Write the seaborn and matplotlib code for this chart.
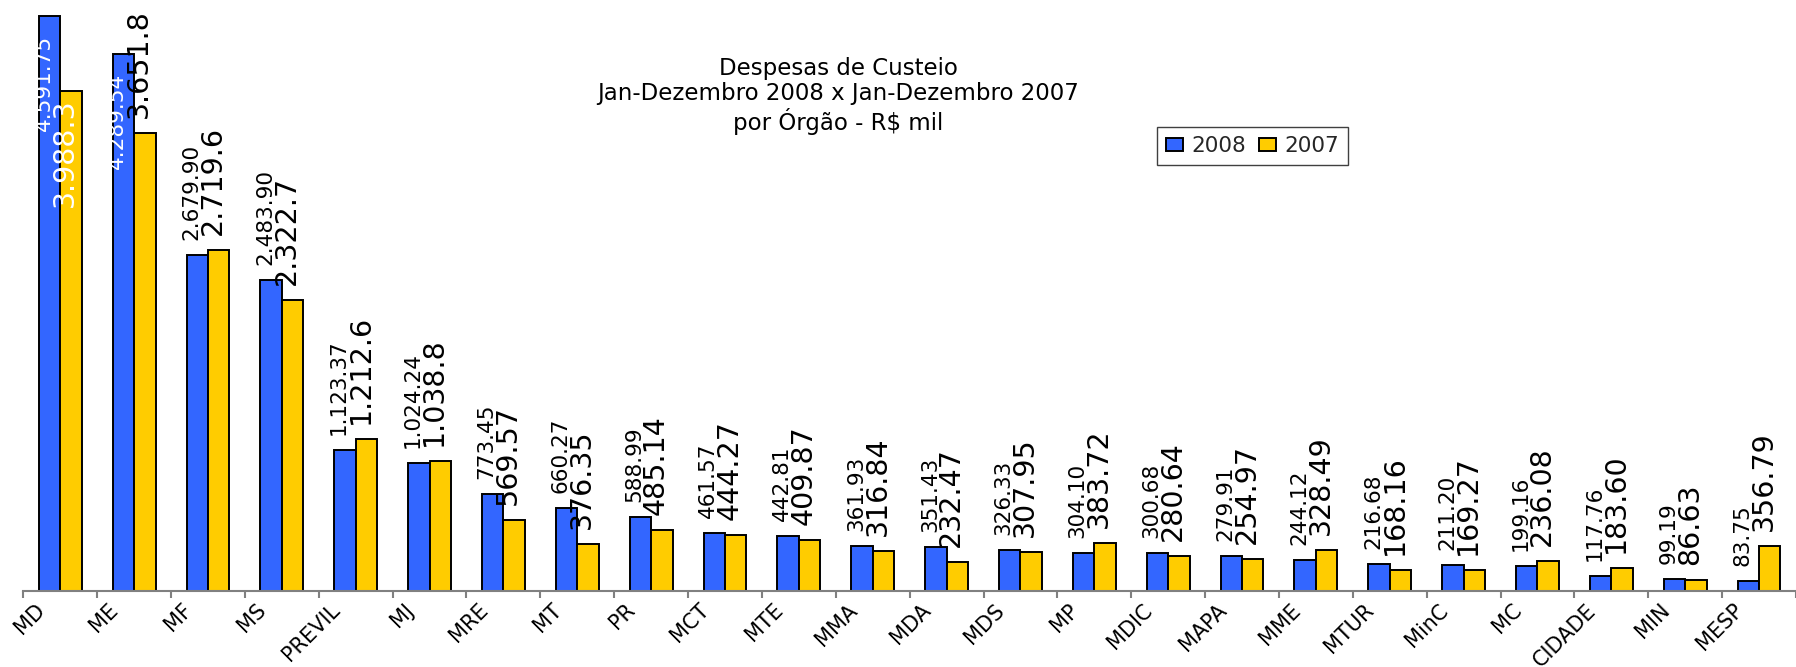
import matplotlib
matplotlib.use("Agg")
import matplotlib.pyplot as plt
import matplotlib.transforms as mtrans
import seaborn as sns
import pandas as pd
import numpy as np

# ---------------- data ----------------
orgaos = ["MD", "ME", "MF", "MS", "PREVIL", "MJ", "MRE", "MT", "PR", "MCT",
          "MTE", "MMA", "MDA", "MDS", "MP", "MDIC", "MAPA", "MME", "MTUR",
          "MinC", "MC", "CIDADE", "MIN", "MESP"]
valores_2008 = [4591.75, 4289.54, 2679.90, 2483.90, 1123.37, 1024.24, 773.45,
                660.27, 588.99, 461.57, 442.81, 361.93, 351.43, 326.33, 304.10,
                300.68, 279.91, 244.12, 216.68, 211.20, 199.16, 117.76, 99.19, 83.75]
valores_2007 = [3988.3, 3651.8, 2719.6, 2322.7, 1212.6, 1038.8, 569.57, 376.35,
                485.14, 444.27, 409.87, 316.84, 232.47, 307.95, 383.72, 280.64,
                254.97, 328.49, 168.16, 169.27, 236.08, 183.60, 86.63, 356.79]
rotulos_2008 = ["4.591.75", "4.289.54", "2.679.90", "2.483.90", "1.123.37", "1.024.24",
                "773.45", "660.27", "588.99", "461.57", "442.81", "361.93", "351.43",
                "326.33", "304.10", "300.68", "279.91", "244.12", "216.68", "211.20",
                "199.16", "117.76", "99.19", "83.75"]
rotulos_2007 = ["3.988.3", "3.651.8", "2.719.6", "2.322.7", "1.212.6", "1.038.8",
                "569.57", "376.35", "485.14", "444.27", "409.87", "316.84", "232.47",
                "307.95", "383.72", "280.64", "254.97", "328.49", "168.16", "169.27",
                "236.08", "183.60", "86.63", "356.79"]
anos = ["2008", "2007"]
cores = ["#3366FF", "#FFCC00"]
titulo = "Despesas de Custeio\nJan-Dezembro 2008 x Jan-Dezembro 2007\npor Órgão - R$ mil"

df = pd.DataFrame({
    "Orgao": orgaos * 2,
    "Ano": [anos[0]] * len(orgaos) + [anos[1]] * len(orgaos),
    "Valor": valores_2008 + valores_2007,
})

# ---------------- figure ----------------
sns.set_theme(style="white")
plt.rcParams["font.family"] = ["DejaVu Sans"]

W, H, DPI = 1796, 667, 100
fig = plt.figure(figsize=(W / DPI, H / DPI), dpi=DPI)
left_px, base_px = 23.3, 591.0
cat_px = 74.35
ax = fig.add_axes([left_px / W, (H - base_px) / H, (W - left_px) / W, base_px / H])

bar_width = 0.58
sns.barplot(data=df, x="Orgao", y="Valor", hue="Ano", hue_order=anos,
            order=orgaos, palette=cores, width=bar_width, dodge=True,
            edgecolor="black", linewidth=1.4, saturation=1, errorbar=None, ax=ax)

n = len(orgaos)
ax.set_xlim(-0.5, -0.5 + (W - left_px) / cat_px)
ymax = base_px / (575.3 / 4591.75)
ax.set_ylim(0, ymax)

ax.set_xlabel("")
ax.set_ylabel("")
ax.set_yticks([])
for s in ["top", "right", "left"]:
    ax.spines[s].set_visible(False)
ax.spines["bottom"].set_color("#808080")
ax.spines["bottom"].set_linewidth(1.5)

# category ticks (labels at centres, tick marks at boundaries)
ax.set_xticks(np.arange(n))
ax.set_xticklabels(orgaos, rotation=45, ha="right", va="top",
                   rotation_mode="anchor", fontsize=15, color="black")
ax.set_xticks(np.arange(n + 1) - 0.5, minor=True)
ax.tick_params(axis="x", which="major", length=0, pad=0)
ax.tick_params(axis="x", which="minor", length=5, width=1.5, color="#808080",
               direction="out", bottom=True)
lab_off = mtrans.ScaledTranslation(-26 / DPI, -9 / DPI, fig.dpi_scale_trans)
for lab in ax.get_xticklabels():
    lab.set_transform(lab.get_transform() + lab_off)

# legend
handles, labels = ax.get_legend_handles_labels()
if ax.get_legend() is not None:
    ax.get_legend().remove()
leg = fig.legend(handles, labels, loc="upper left",
                 bbox_to_anchor=(1157 / W, 1 - 127 / H), ncol=2, fontsize=15.5,
                 frameon=True, fancybox=False, shadow=False, framealpha=1,
                 edgecolor="#404040", handlelength=0.8, handleheight=0.56,
                 handletextpad=0.38, columnspacing=0.6, borderpad=0.42,
                 borderaxespad=0)
leg.get_frame().set_linewidth(1.0)

# title
fig.text(838 / W, 1 - 96 / H, titulo, ha="center", va="center",
         fontsize=16.5, linespacing=1.12, color="black")

# data labels
fig.canvas.draw()
renderer = fig.canvas.get_renderer()
sub_w = bar_width / 2
shift = mtrans.ScaledTranslation(-6 / DPI, 0, fig.dpi_scale_trans)
series = [(valores_2008, rotulos_2008, 15.5, 19),
          (valores_2007, rotulos_2007, 20.5, 7)]
for j, (vals, rots, fs, inner) in enumerate(series):
    for i, (v, r) in enumerate(zip(vals, rots)):
        x = i + (j - 0.5) * sub_w
        up = mtrans.ScaledTranslation(0, 15 / DPI, fig.dpi_scale_trans)
        t = ax.text(x, v, r, rotation=90, ha="center", va="bottom",
                    fontsize=fs, color="black", clip_on=False,
                    transform=ax.transData + shift + up)
        bb = t.get_window_extent(renderer)
        if bb.y1 > fig.bbox.height:
            down = mtrans.ScaledTranslation(0, -inner / DPI, fig.dpi_scale_trans)
            t.set_transform(ax.transData + shift + down)
            t.set_va("top")
            t.set_color("white")

fig.savefig("out.png", dpi=DPI)
